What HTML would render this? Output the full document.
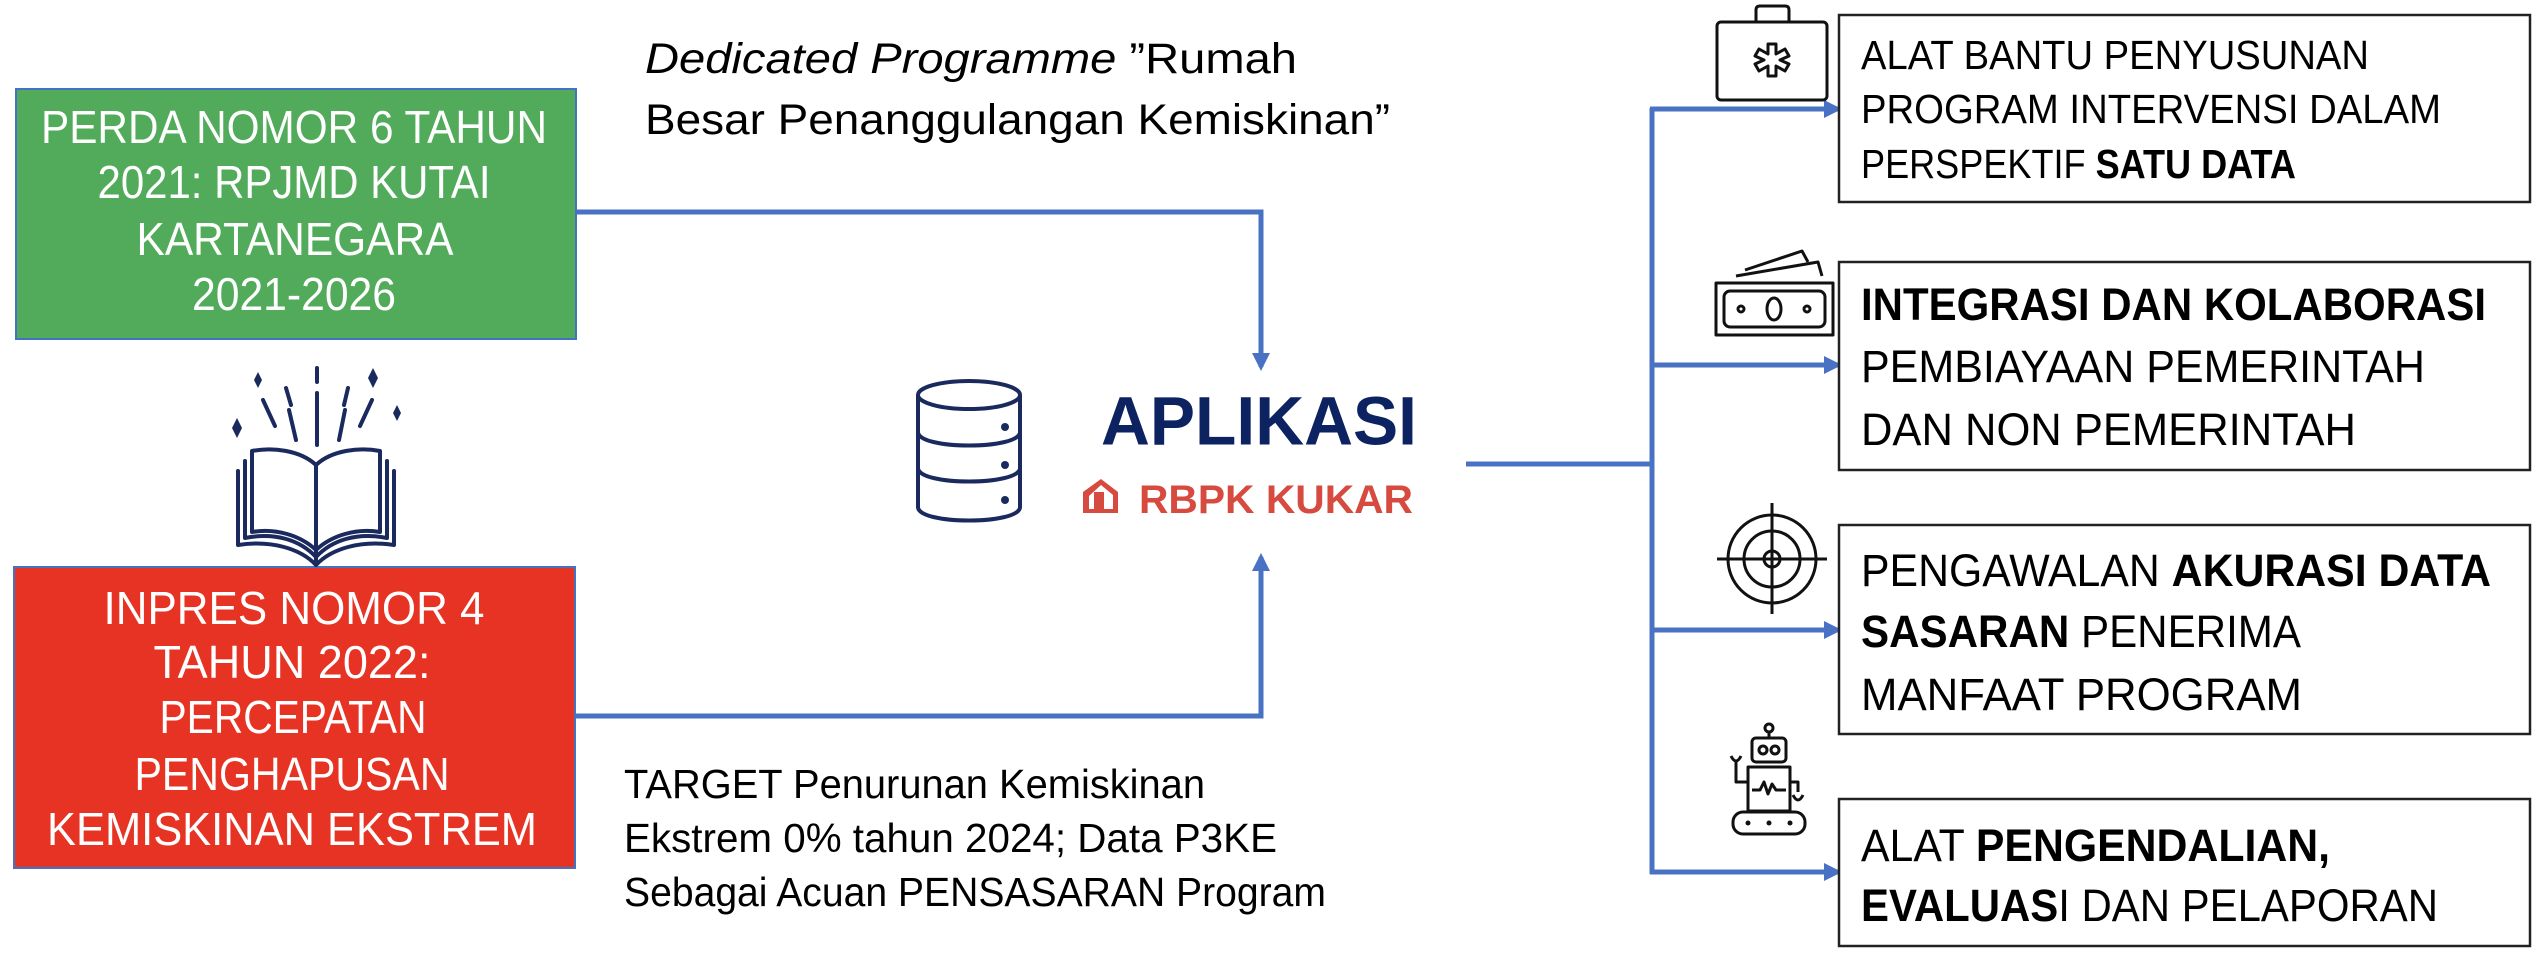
<!DOCTYPE html>
<html><head><meta charset="utf-8"><style>
html,body{margin:0;padding:0;background:#fff;}
svg{display:block}
text{font-family:"Liberation Sans",sans-serif;}
</style></head><body>
<svg width="2542" height="960" viewBox="0 0 2542 960" xmlns="http://www.w3.org/2000/svg">
<defs>
<marker id="ah" markerWidth="18" markerHeight="18" refX="14" refY="9" orient="auto" markerUnits="userSpaceOnUse" viewBox="0 0 18 18">
<path d="M0,0 L18,9 L0,18 z" fill="#4a72c4"/></marker>
</defs>
<rect width="2542" height="960" fill="#fff"/>

<!-- Green box -->
<rect x="16" y="89" width="560" height="250" fill="#52ab5a" stroke="#4472c4" stroke-width="2"/>
<g fill="#fff" font-size="46" text-anchor="middle">
<text x="294" y="143" textLength="506" lengthAdjust="spacingAndGlyphs">PERDA NOMOR 6 TAHUN</text>
<text x="294" y="198" textLength="393" lengthAdjust="spacingAndGlyphs">2021: RPJMD KUTAI</text>
<text x="295" y="255" textLength="317" lengthAdjust="spacingAndGlyphs">KARTANEGARA</text>
<text x="294" y="310" textLength="204" lengthAdjust="spacingAndGlyphs">2021-2026</text>
</g>

<!-- Red box -->
<rect x="14" y="567" width="561" height="301" fill="#e63323" stroke="#4472c4" stroke-width="2"/>
<g fill="#fff" font-size="46" text-anchor="middle">
<text x="294" y="624" textLength="381" lengthAdjust="spacingAndGlyphs">INPRES NOMOR 4</text>
<text x="292" y="678" textLength="277" lengthAdjust="spacingAndGlyphs">TAHUN 2022:</text>
<text x="293" y="733" textLength="267" lengthAdjust="spacingAndGlyphs">PERCEPATAN</text>
<text x="292" y="790" textLength="315" lengthAdjust="spacingAndGlyphs">PENGHAPUSAN</text>
<text x="292" y="845" textLength="490" lengthAdjust="spacingAndGlyphs">KEMISKINAN EKSTREM</text>
</g>

<!-- Connectors left -->
<path d="M576,212 H1261 V367" fill="none" stroke="#4a72c4" stroke-width="5" marker-end="url(#ah)"/>
<path d="M575,716 H1261 V557" fill="none" stroke="#4a72c4" stroke-width="5" marker-end="url(#ah)"/>

<!-- top text -->
<g font-size="43" fill="#000">
<text x="645" y="73" textLength="652" lengthAdjust="spacingAndGlyphs"><tspan font-style="italic">Dedicated Programme</tspan> ”Rumah</text>
<text x="645" y="134" textLength="745" lengthAdjust="spacingAndGlyphs">Besar Penanggulangan Kemiskinan”</text>
</g>
<!-- bottom text -->
<g font-size="41" fill="#000">
<text x="624" y="798" textLength="581" lengthAdjust="spacingAndGlyphs">TARGET Penurunan Kemiskinan</text>
<text x="624" y="852" textLength="653" lengthAdjust="spacingAndGlyphs">Ekstrem 0% tahun 2024; Data P3KE</text>
<text x="624" y="906" textLength="702" lengthAdjust="spacingAndGlyphs">Sebagai Acuan PENSASARAN Program</text>
</g>

<!-- Book icon -->
<g fill="none" stroke="#1b2a5e" stroke-width="4" stroke-linecap="round" stroke-linejoin="round">
<path d="M316,465 C300,450 272,447 252,451 V532 C275,528 300,535 316,550"/>
<path d="M316,465 C332,450 360,447 380,451 V532 C357,528 332,535 316,550"/>
<path d="M245,461 V538 C275,532 300,540 316,557 C332,540 357,532 387,538 V461"/>
<path d="M238,471 V545 C270,540 300,548 316,565 C332,548 362,540 394,545 V471"/>
<line x1="316" y1="465" x2="316" y2="560"/>
<line x1="317" y1="368" x2="317" y2="382"/><line x1="317" y1="393" x2="317" y2="445"/>
<line x1="286" y1="388" x2="291" y2="405"/><line x1="263" y1="400" x2="275" y2="426"/>
<line x1="289" y1="410" x2="296" y2="440"/>
<line x1="348" y1="388" x2="344" y2="405"/><line x1="372" y1="400" x2="360" y2="426"/>
<line x1="345" y1="410" x2="339" y2="440"/>
</g>
<g fill="#1b2a5e">
<path d="M258,372 l4,8 l-4,8 l-4,-8z"/><path d="M373,368 l5,10 l-5,10 l-5,-10z"/>
<path d="M237,418 l5,10 l-5,10 l-5,-10z"/><path d="M397,405 l4,8 l-4,8 l-4,-8z"/>
</g>

<!-- DB icon -->
<g fill="none" stroke="#1b2a5e" stroke-width="4">
<ellipse cx="969" cy="395" rx="51" ry="14"/>
<path d="M918,395 V507 C918,525 1020,525 1020,507 V395"/>
<path d="M918,432 C918,450 1020,450 1020,432"/>
<path d="M918,468 C918,486 1020,486 1020,468"/>
</g>
<g fill="#1b2a5e"><circle cx="1005" cy="427" r="4"/><circle cx="1005" cy="465" r="4"/><circle cx="1005" cy="500" r="4"/></g>

<!-- APLIKASI logo -->
<text x="1101" y="445" font-size="60" font-weight="bold" fill="#0d2260" textLength="316" lengthAdjust="spacingAndGlyphs" transform="translate(0,-67) scale(1,1.15)">APLIKASI</text>
<g fill="#d64a3f">
<path d="M1083,492 L1101,479 L1118,492 V513 H1083 Z M1089,496 V509 H1094 V492 H1104 V509 H1113 V495 L1101,485 Z" fill-rule="evenodd"/>
</g>
<text x="1139" y="513" font-size="40" font-weight="bold" fill="#d64a3f" textLength="274" lengthAdjust="spacingAndGlyphs">RBPK KUKAR</text>

<!-- Right connectors -->
<g fill="none" stroke="#4a72c4" stroke-width="5">
<line x1="1466" y1="464" x2="1652" y2="464"/>
<line x1="1652" y1="108" x2="1652" y2="874"/>
<path d="M1650,109 H1838" marker-end="url(#ah)"/>
<path d="M1650,365 H1838" marker-end="url(#ah)"/>
<path d="M1650,630 H1838" marker-end="url(#ah)"/>
<path d="M1650,872 H1838" marker-end="url(#ah)"/>
</g>

<!-- Right boxes -->
<g fill="#fff" stroke="#222" stroke-width="2.5">
<rect x="1839" y="15" width="691" height="187"/>
<rect x="1839" y="262" width="691" height="208"/>
<rect x="1839" y="525" width="691" height="209"/>
<rect x="1839" y="799" width="691" height="147"/>
</g>
<g font-size="41" fill="#000">
<text x="1861" y="69" textLength="508" lengthAdjust="spacingAndGlyphs">ALAT BANTU PENYUSUNAN</text>
<text x="1861" y="123" textLength="580" lengthAdjust="spacingAndGlyphs">PROGRAM INTERVENSI DALAM</text>
<text x="1861" y="178" textLength="435" lengthAdjust="spacingAndGlyphs">PERSPEKTIF <tspan font-weight="bold">SATU DATA</tspan></text>
</g>
<g font-size="45" fill="#000">
<text x="1861" y="320" textLength="625" lengthAdjust="spacingAndGlyphs" font-weight="bold">INTEGRASI DAN KOLABORASI</text>
<text x="1861" y="382" textLength="564" lengthAdjust="spacingAndGlyphs">PEMBIAYAAN PEMERINTAH</text>
<text x="1861" y="445" textLength="495" lengthAdjust="spacingAndGlyphs">DAN NON PEMERINTAH</text>
<text x="1861" y="586" textLength="630" lengthAdjust="spacingAndGlyphs">PENGAWALAN <tspan font-weight="bold">AKURASI DATA</tspan></text>
<text x="1861" y="647" textLength="440" lengthAdjust="spacingAndGlyphs"><tspan font-weight="bold">SASARAN</tspan> PENERIMA</text>
<text x="1861" y="710" textLength="441" lengthAdjust="spacingAndGlyphs">MANFAAT PROGRAM</text>
<text x="1861" y="861" textLength="469" lengthAdjust="spacingAndGlyphs">ALAT <tspan font-weight="bold">PENGENDALIAN,</tspan></text>
<text x="1861" y="921" textLength="577" lengthAdjust="spacingAndGlyphs"><tspan font-weight="bold">EVALUAS</tspan>I DAN PELAPORAN</text>
</g>

<!-- Icons right -->
<g fill="none" stroke="#111" stroke-width="3" stroke-linejoin="round">
<!-- medkit -->
<rect x="1717" y="22" width="110" height="78" rx="4"/>
<path d="M1756,22 V10 Q1756,6 1760,6 H1785 Q1789,6 1789,10 V22"/>
<g transform="translate(1772,60)">
<path d="M-4,-16 h8 v10 l9,-5 l4,7 l-9,4 l9,4 l-4,7 l-9,-5 v10 h-8 v-10 l-9,5 l-4,-7 l9,-4 l-9,-4 l4,-7 l9,5 z"/>
</g>
<!-- money -->
<rect x="1716" y="283" width="117" height="52"/>
<rect x="1724" y="291" width="101" height="36" rx="6"/>
<ellipse cx="1774" cy="309" rx="7" ry="11"/>
<circle cx="1741" cy="309" r="3"/><circle cx="1807" cy="309" r="3"/>
<path d="M1736,276 L1818,262 L1822,276"/>
<path d="M1745,270 L1802,251 L1808,262"/>
<!-- target -->
<circle cx="1772" cy="559" r="44"/><circle cx="1772" cy="559" r="28"/><circle cx="1772" cy="559" r="8"/>
<line x1="1717" y1="559" x2="1827" y2="559"/><line x1="1772" y1="503" x2="1772" y2="614"/>
<!-- robot -->
<circle cx="1769" cy="728" r="4"/><line x1="1769" y1="732" x2="1769" y2="738"/>
<rect x="1752" y="738" width="34" height="24" rx="4"/>
<circle cx="1763" cy="750" r="4"/><circle cx="1775" cy="750" r="4"/>
<rect x="1748" y="767" width="42" height="44"/>
<path d="M1752,790 h8 l4,-8 l4,12 l4,-10 l4,6 h10"/>
<rect x="1733" y="812" width="72" height="22" rx="10"/>
<path d="M1748,782 h-12 v-20"/><path d="M1731,756 q5,10 10,0"/>
<path d="M1790,782 h8 v10"/><path d="M1793,795 q5,10 10,0"/>
</g>
<g fill="#111"><circle cx="1748" cy="823" r="2.5"/><circle cx="1769" cy="823" r="2.5"/><circle cx="1790" cy="823" r="2.5"/></g>
</svg>
</body></html>
